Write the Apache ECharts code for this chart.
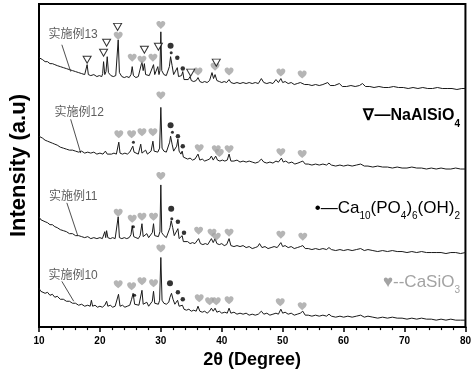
<!DOCTYPE html>
<html><head><meta charset="utf-8">
<script src="https://cdn.jsdelivr.net/npm/echarts/dist/echarts.min.js"></script>
<style>html,body{margin:0;padding:0;background:#fff}#c{width:474px;height:374px}</style>
</head><body><div id="c"></div>
<script>
// x axis range / ticks (2θ, degree)
const xMin = 10, xMax = 80, xStep = 10;
// vertical scale (arbitrary intensity units incl. offsets)
const yMin = 0, yMax = 325;

const trace10 = [[10,39],[10.3,36],[10.6,37],[11,34],[11.4,35],[11.8,32],[12.2,33],[12.6,30],[13,31],[13.5,28],[14,28],[14.5,26],[15,26],[15.5,24],[16,24],[16.5,22],[17,23],[17.5,21],[18,22],[18.4,21],[18.6,27],[18.8,21],[19.2,22],[19.6,20],[20,21],[20.4,20],[20.8,22],[21.1,26],[21.3,21],[21.7,22],[22.1,20],[22.5,21],[22.8,20],[23.05,33],[23.3,21],[23.7,22],[24.1,20],[24.5,21],[24.9,22],[25.2,28],[25.45,34],[25.7,23],[26,21],[26.4,22],[26.7,24],[26.9,37],[27.1,23],[27.4,22],[27.7,25],[28,21],[28.3,23],[28.6,26],[28.8,36],[29.0,24],[29.3,22],[29.6,23],[29.8,27],[30.0,70],[30.2,27],[30.5,24],[30.9,23],[31.3,25],[31.5,30],[31.75,34],[32.0,28],[32.3,23],[32.5,24],[32.75,27],[33.0,21],[33.3,20],[33.55,22],[33.8,18],[34.2,17],[34.6,18],[35.0,16],[35.4,17],[35.8,16],[36.1,21],[36.4,16],[36.8,15],[37.2,16],[37.6,14],[38.0,16],[38.3,19],[38.6,16],[38.9,19],[39.2,15],[39.6,16],[40.0,14],[40.5,15],[40.9,14],[41.2,19],[41.5,14],[42,15],[42.5,13],[43,14],[43.5,13],[44,14],[44.5,12],[45,13],[45.5,12],[46,13],[46.5,16],[46.9,13],[47.4,14],[47.9,12],[48.4,13],[48.9,14],[49.3,13],[49.7,18],[50.0,14],[50.4,15],[50.9,13],[51.4,14],[51.9,12],[52.4,13],[52.9,14],[53.3,16],[53.7,12],[54.2,12],[54.8,11],[55.4,12],[56,11],[56.6,12],[57.2,11],[57.6,13],[58,11],[58.7,10],[59.4,11],[60,10],[60.7,11],[61.4,10],[62.1,11],[62.8,12],[63.4,10],[64,11],[64.8,10],[65.6,9],[66.4,10],[67.2,9],[68,10],[68.8,9],[69.6,9],[70.4,8],[71.2,9],[72,8],[72.8,9],[73.6,8],[74.4,8],[75.2,7],[76,8],[76.8,7],[77.6,8],[78.4,7],[79.2,7],[80,7]];

const trace11 = [[10,111],[10.3,108],[10.6,109],[11,106],[11.4,105],[11.8,103],[12.2,103],[12.6,101],[13,100],[13.5,98],[14,97],[14.5,96],[15,94],[15.5,94],[16,92],[16.5,92],[17,91],[17.5,90],[18,91],[18.5,89],[19,90],[19.5,89],[20,90],[20.4,89],[20.65,91],[20.8,96],[20.95,90],[21.1,97],[21.3,90],[21.7,89],[22.1,90],[22.5,89],[22.8,90],[23.0,111],[23.2,90],[23.6,89],[24,90],[24.4,89],[24.8,90],[25.1,93],[25.3,102],[25.55,91],[25.9,90],[26.3,89],[26.6,92],[26.9,104],[27.1,91],[27.4,90],[27.7,94],[28.0,90],[28.3,91],[28.6,95],[28.8,104],[29.0,92],[29.3,90],[29.6,91],[29.85,96],[30.0,143],[30.15,95],[30.5,92],[30.9,90],[31.2,92],[31.5,100],[31.7,107],[31.95,100],[32.2,92],[32.5,91],[32.8,99],[33.0,89],[33.3,88],[33.5,92],[33.7,86],[34.0,85],[34.4,86],[34.8,84],[35.2,85],[35.6,84],[35.9,85],[36.2,89],[36.5,84],[36.9,83],[37.3,84],[37.7,83],[38.0,85],[38.3,89],[38.6,85],[38.9,89],[39.2,84],[39.6,83],[40.0,84],[40.4,82],[40.8,83],[41.2,89],[41.5,82],[42,81],[42.5,82],[43,81],[43.5,82],[44,80],[44.5,81],[45,79],[45.5,80],[45.9,81],[46.2,84],[46.6,80],[47.1,81],[47.6,79],[48.1,80],[48.6,81],[49.1,80],[49.4,82],[49.7,85],[50.0,81],[50.4,82],[50.9,80],[51.4,81],[51.9,79],[52.4,80],[52.9,81],[53.3,82],[53.7,79],[54.2,79],[54.8,78],[55.4,79],[56,78],[56.6,79],[57.2,78],[57.6,80],[58,78],[58.7,77],[59.4,78],[60,77],[60.7,78],[61.4,77],[62.1,78],[62.8,79],[63.4,77],[64,78],[64.8,77],[65.6,76],[66.4,77],[67.2,76],[68,77],[68.8,76],[69.6,76],[70.4,75],[71.2,76],[72,75],[72.8,76],[73.6,75],[74.4,75],[75.2,75],[76,75],[76.8,74],[77.6,75],[78.4,75],[79.2,74],[80,75]];

const trace12 = [[10,192],[10.3,190],[10.6,190],[11,188],[11.4,187],[11.8,186],[12.2,185],[12.6,184],[13,183],[13.5,181],[14,180],[14.5,179],[15,178],[15.5,178],[16,177],[16.5,176],[17,177],[17.5,175],[18,176],[18.5,175],[19,176],[19.5,174],[20,175],[20.5,174],[20.9,177],[21.2,174],[21.5,176],[21.9,174],[22.3,175],[22.7,174],[22.9,176],[23.1,186],[23.3,175],[23.7,174],[24.1,175],[24.5,174],[24.9,176],[25.2,178],[25.4,182],[25.6,176],[25.9,175],[26.3,174],[26.5,176],[26.7,184],[26.9,175],[27.2,176],[27.5,178],[27.8,174],[28.1,175],[28.4,177],[28.7,187],[28.9,177],[29.2,175],[29.5,176],[29.8,180],[30.0,221],[30.2,180],[30.5,177],[30.9,176],[31.2,178],[31.45,186],[31.6,192],[31.85,184],[32.1,177],[32.4,178],[32.6,182],[32.8,189],[33.0,177],[33.3,174],[33.5,177],[33.7,171],[34.0,170],[34.4,169],[34.8,170],[35.2,168],[35.6,169],[35.9,168],[36.1,174],[36.4,168],[36.8,169],[37.2,167],[37.6,168],[38.0,169],[38.3,172],[38.6,168],[39.0,172],[39.3,168],[39.7,167],[40.1,168],[40.5,167],[40.9,168],[41.2,174],[41.5,167],[42,167],[42.5,168],[43,166],[43.5,167],[44,166],[44.5,167],[45,166],[45.5,165],[46,166],[46.5,169],[46.9,166],[47.4,165],[47.9,166],[48.4,165],[48.9,167],[49.3,166],[49.8,170],[50.1,166],[50.5,167],[51,165],[51.5,166],[52,164],[52.5,165],[52.9,166],[53.3,167],[53.7,164],[54.2,164],[54.8,163],[55.4,164],[56,163],[56.6,164],[57.2,163],[57.6,165],[58,163],[58.7,162],[59.4,163],[60,162],[60.7,163],[61.4,162],[62.1,163],[62.8,164],[63.4,162],[64,162],[64.8,161],[65.6,162],[66.4,161],[67.2,161],[68,160],[68.8,161],[69.6,160],[70.4,160],[71.2,161],[72,160],[72.8,160],[73.6,159],[74.4,160],[75.2,159],[76,160],[76.8,159],[77.6,159],[78.4,160],[79.2,159],[80,159]];

const trace13 = [[10,271],[10.3,269],[10.6,269],[11,267],[11.4,267],[11.8,265],[12.2,265],[12.6,264],[13,263],[13.5,262],[14,261],[14.5,260],[15,259],[15.5,258],[16,257],[16.5,256],[17,255],[17.5,254],[17.7,255],[17.9,264],[18.1,254],[18.5,253],[19,254],[19.5,252],[19.9,253],[20.3,252],[20.45,255],[20.6,267],[20.8,254],[21.0,257],[21.2,272],[21.4,256],[21.8,253],[22.2,252],[22.6,253],[22.85,255],[23.0,289],[23.2,256],[23.6,252],[24.0,251],[24.4,252],[24.8,251],[25.1,254],[25.3,262],[25.5,253],[25.9,251],[26.3,252],[26.6,254],[26.9,267],[27.1,258],[27.3,265],[27.5,254],[27.8,252],[28.1,253],[28.4,255],[28.8,264],[29.0,254],[29.3,256],[29.5,262],[29.7,254],[29.85,258],[30.0,297],[30.15,258],[30.5,254],[30.9,253],[31.2,255],[31.4,262],[31.6,272],[31.85,263],[32.1,254],[32.4,255],[32.7,261],[32.9,252],[33.2,251],[33.4,253],[33.6,257],[33.8,249],[34.1,248],[34.5,249],[34.8,252],[35.0,248],[35.4,247],[35.8,248],[36.1,251],[36.4,247],[36.8,246],[37.2,247],[37.6,246],[38.0,248],[38.4,256],[38.65,250],[38.9,254],[39.2,248],[39.6,247],[40.0,246],[40.4,247],[40.8,246],[41.2,249],[41.5,246],[42,245],[42.5,246],[43,245],[43.5,246],[44,245],[44.5,246],[45,245],[45.5,246],[46,245],[46.5,250],[46.9,246],[47.4,245],[47.9,246],[48.4,245],[48.9,249],[49.3,246],[49.7,250],[50.0,246],[50.4,247],[50.9,245],[51.4,246],[51.9,244],[52.4,245],[52.9,246],[53.2,247],[53.6,244],[54.2,244],[54.8,243],[55.4,244],[56,243],[56.6,244],[57.4,246],[57.8,243],[58.5,243],[59.3,245],[59.8,242],[60.5,242],[61.2,243],[61.9,242],[62.6,243],[63.1,245],[63.6,242],[64.3,242],[65,241],[65.8,242],[66.6,241],[67.4,241],[68.2,242],[69,241],[69.8,241],[70.6,240],[71.4,241],[72.2,240],[73,241],[73.8,240],[74.6,240],[75.4,241],[76.2,240],[77,240],[77.8,240],[78.6,239],[79.4,240],[80,240]];

// phase markers (2θ, position)
const heartMarks = [[23.0,293],[25.3,271],[26.9,269],[28.7,271],[30.0,304],[36.1,257],[38.9,262],[41.2,257],[49.7,256],[53.2,254],
  [23.1,194],[25.2,194],[26.9,196],[28.7,196],[30.0,233],[36.3,180],[39.1,179],[39.6,175],[41.2,179],[49.7,176],[53.2,174],
  [23.0,115],[25.3,109],[26.9,111],[28.8,111],[30.0,152],[36.2,97],[38.4,95],[39.1,91],[41.2,95],[49.7,93],[53.3,91],
  [23.0,43],[25.2,41],[26.9,46],[28.8,44],[30.0,79],[36.3,29],[38.0,26],[39.1,26],[41.2,27],[49.6,25],[53.2,21]];
const triMarks = [[17.9,269],[20.6,276],[21.1,286],[22.9,302],[27.3,279],[29.6,282],[34.9,256],[39.1,266]];
const dotBig = [[31.6,283],[31.6,203],[31.7,119],[31.5,44]];
const dotMid = [[32.7,271],[33.6,260],[32.8,192],[33.6,182],[32.8,106],[33.8,95],[32.8,35],[33.6,28]];
const dotSmall = [[31.7,276],[31.9,196],[31.8,109],[25.5,186],[25.5,101],[25.7,32]];

// sample labels and leader lines (data coords)
const sampleNames = ['实施例13','实施例12','实施例11','实施例10'];
const labelPos = [[15.6,294],[16.6,216],[15.6,131],[15.6,52]];
const leaderLines = [[[13.75,284],[15.2,257]],[[15.2,209],[16.85,175]],[[14.57,125],[16.36,92]],[[13.75,46],[15.7,26]]];

const heartPath = 'path://M5,9 C2,6.5 0,4.8 0,2.7 C0,1.1 1.2,0 2.6,0 C3.6,0 4.5,0.6 5,1.5 C5.5,0.6 6.4,0 7.4,0 C8.8,0 10,1.1 10,2.7 C10,4.8 8,6.5 5,9 Z';
const triPath = 'path://M0,0 L10,0 L5,9 Z';
const gray = '#a3a3a3';

const chart = echarts.init(document.getElementById('c'), null, {renderer:'canvas'});
const lineSeries = [trace13, trace12, trace11, trace10].map(d => ({
  type:'line', data:d, symbol:'none', smooth:false,
  lineStyle:{color:'#1a1a1a', width:1}, z:2, silent:true
}));
const subStyle = (fill) => ({fontFamily:'Liberation Sans, Arial', fontSize:10, fill:fill, lineHeight:20, verticalAlign:'bottom', padding:[0,0,-3,0]});
chart.setOption({
  animation:false,
  backgroundColor:'#fff',
  grid:{left:37, right:8, top:4, bottom:45, show:true, borderColor:'#000', borderWidth:2},
  xAxis:{type:'value', min:xMin, max:xMax, interval:xStep,
    name:'2θ (Degree)', nameLocation:'middle', nameGap:23,
    nameTextStyle:{fontFamily:'Liberation Sans, Arial', fontWeight:'bold', fontSize:18, color:'#000'},
    axisLine:{show:true, lineStyle:{color:'#000', width:2}},
    axisTick:{show:true, inside:false, length:5, lineStyle:{color:'#000', width:1.5}},
    minorTick:{show:true, splitNumber:5, length:3, lineStyle:{color:'#000', width:1.2}},
    axisLabel:{fontFamily:'Liberation Sans, Arial', fontWeight:'bold', fontSize:10, color:'#000', margin:9},
    splitLine:{show:false}},
  yAxis:{type:'value', min:yMin, max:yMax,
    name:'Intensity (a.u)', nameLocation:'middle', nameGap:9,
    nameTextStyle:{fontFamily:'Liberation Sans, Arial', fontWeight:'bold', fontSize:22, color:'#000'},
    axisLine:{show:false}, axisTick:{show:false}, axisLabel:{show:false}, splitLine:{show:false}},
  series:[...lineSeries,
    {type:'scatter', data:heartMarks, symbol:heartPath, symbolSize:[9,8], itemStyle:{color:gray}, z:3, silent:true},
    {type:'scatter', data:triMarks, symbol:triPath, symbolSize:[8,7], itemStyle:{color:'#fff', borderColor:'#000', borderWidth:1}, z:3, silent:true},
    {type:'scatter', data:dotBig, symbol:'circle', symbolSize:6, itemStyle:{color:'#000'}, z:3, silent:true},
    {type:'scatter', data:dotMid, symbol:'circle', symbolSize:4.5, itemStyle:{color:'#000'}, z:3, silent:true},
    {type:'scatter', data:dotSmall, symbol:'circle', symbolSize:3, itemStyle:{color:'#000'}, z:3, silent:true},
    {type:'lines', coordinateSystem:'cartesian2d', data:leaderLines.map(c=>({coords:c})), lineStyle:{color:'#222', width:0.8, opacity:1}, z:3, silent:true},
    {type:'scatter', data:labelPos.map((p,i)=>({value:p, name:sampleNames[i]})), symbolSize:0, z:4, silent:true,
      label:{show:true, position:'inside', formatter:p=>p.name, fontSize:12, color:'#333',
        fontFamily:'Liberation Sans, Noto Sans CJK SC'}}
  ],
  graphic:[
    {type:'text', right:14, top:108, style:{
      text:'{a|∇—NaAlSiO}{s|4}',
      rich:{a:{fontFamily:'Liberation Sans, Arial', fontWeight:'bold', fontSize:16, fill:'#000', lineHeight:20},
            s:Object.assign(subStyle('#000'), {fontWeight:'bold'})}}},
    {type:'text', right:14, top:200, style:{
      text:'{a|•—Ca}{s|10}{a|(PO}{s|4}{a|)}{s|6}{a|(OH)}{s|2}',
      rich:{a:{fontFamily:'Liberation Sans, Arial', fontSize:17, fill:'#000', lineHeight:20},
            s:subStyle('#000')}}},
    {type:'text', right:14, top:274, style:{
      text:'{a|♥--CaSiO}{s|3}',
      rich:{a:{fontFamily:'Liberation Sans, DejaVu Sans', fontSize:17, fill:gray, lineHeight:20},
            s:subStyle(gray)}}}
  ]
});
</script></body></html>
